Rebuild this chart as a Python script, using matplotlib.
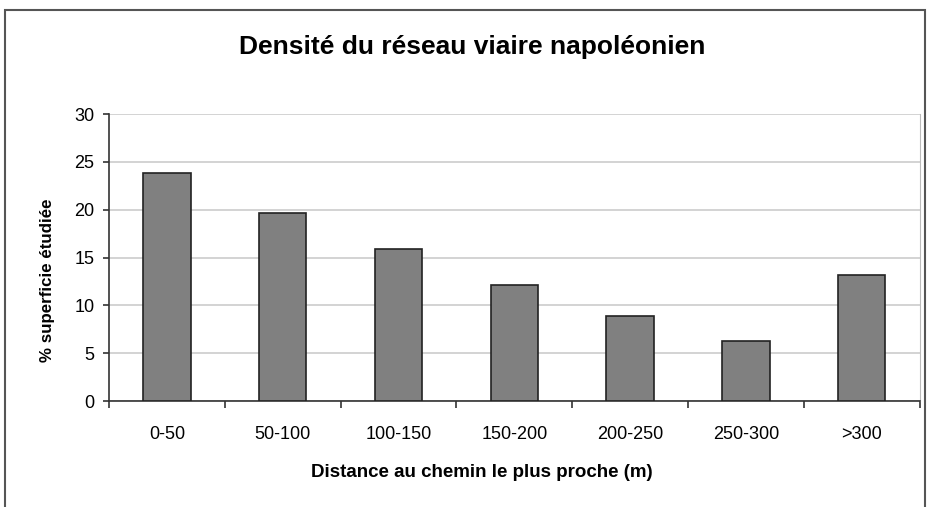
import matplotlib
matplotlib.use('Agg')
import matplotlib.pyplot as plt
from matplotlib.patches import Rectangle

plt.rcParams['font.family'] = ['Liberation Sans', 'DejaVu Sans']

# data
categories = ['0-50', '50-100', '100-150', '150-200', '200-250', '250-300', '>300']
values = [23.8, 19.7, 15.9, 12.1, 8.9, 6.3, 13.2]
yticks = [0, 5, 10, 15, 20, 25, 30]

fig = plt.figure(figsize=(9.28, 5.07), dpi=100)
ax = fig.add_axes([0.1175, 0.209, 0.8735, 0.566])

# outer chart frame (bottom edge runs off the image)
fig.patches.append(Rectangle((5/928, -10/507), 920/928, 507/507, transform=fig.transFigure,
                             fill=False, edgecolor='#555555', linewidth=1.5))

x = range(len(categories))
ax.bar(x, values, width=0.41, color='#808080', edgecolor='#222222', linewidth=1.2, zorder=3)

ax.set_xlim(-0.5, len(categories) - 0.5)
ax.set_ylim(0, 30)
ax.set_yticks(yticks)
ax.set_xticks(x)
ax.set_xticklabels(categories)
ax.set_xticks([i - 0.5 for i in range(len(categories) + 1)], minor=True)
ax.tick_params(axis='x', which='major', length=0, pad=18, labelsize=13)
ax.tick_params(axis='x', which='minor', length=5, width=1.2, color='#333333')
ax.tick_params(axis='y', length=4.5, width=1.2, color='#333333', labelsize=13, pad=6)

ax.grid(axis='y', color='#cccccc', linewidth=1.2, zorder=0)
ax.spines['top'].set_visible(False)
ax.spines['right'].set_color('#bbbbbb')
ax.spines['left'].set_color('#333333')
ax.spines['bottom'].set_color('#333333')
ax.spines['left'].set_linewidth(1.2)
ax.spines['bottom'].set_linewidth(1.2)

fig.text(0.509, 0.907, 'Densité du réseau viaire napoléonien', ha='center', va='center',
         fontsize=19, fontweight='bold')
ax.set_xlabel('Distance au chemin le plus proche (m)', fontsize=13.5, fontweight='bold')
ax.xaxis.set_label_coords(0.46, -0.22)
ax.set_ylabel('% superficie étudiée', fontsize=12.2, fontweight='bold')
ax.yaxis.set_label_coords(-0.067, 0.42)

fig.savefig('out.png', dpi=100)
